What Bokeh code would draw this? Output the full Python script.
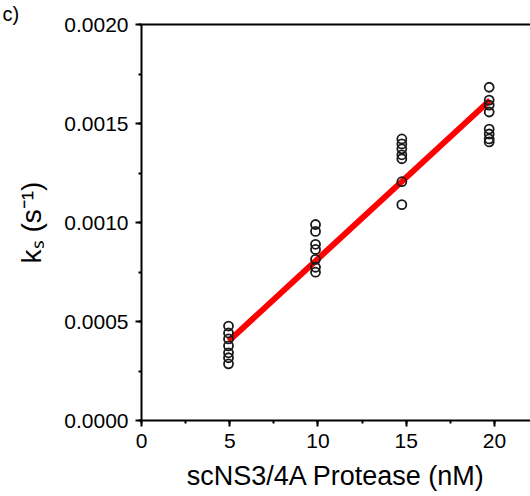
from bokeh.plotting import figure
from bokeh.models import (LinearAxis, SingleIntervalTicker, FixedTicker, PrintfTickFormatter,
                          Range1d, ColumnDataSource)
from bokeh.embed import file_html
from bokeh.resources import INLINE

# ---- data ----
x_5 = [4.93] * 7
y_5 = [0.000477, 0.000442, 0.000412, 0.000377, 0.000342, 0.000317, 0.000286]
x_10 = [9.86] * 7
y_10 = [0.000990, 0.000955, 0.000890, 0.000864, 0.000814, 0.000774, 0.000749]
x_15 = [14.75] * 7
y_15 = [0.001422, 0.001397, 0.001372, 0.001342, 0.001322, 0.001206, 0.001090]
x_20 = [19.7] * 8
y_20 = [0.001683, 0.001618, 0.001593, 0.001558, 0.001472, 0.001447, 0.001422, 0.001407]

fit_x = [4.95, 19.75]
fit_y = [0.000402, 0.001618]

x_label = "scNS3/4A Protease (nM)"
y_label = "kₛ (s⁻¹)"
panel_label = "c)"

FONT = "Liberation Sans"

p = figure(width=530, height=496, output_backend="svg", toolbar_location=None,
           x_range=Range1d(0, 22.04), y_range=Range1d(0, 0.0020),
           min_border_left=141, min_border_top=22, min_border_right=0,
           min_border_bottom=76, background_fill_color="white",
           border_fill_color="white", outline_line_color=None)
p.grid.visible = False

p.title.text = panel_label
p.title.align = "left"
p.title.offset = -139
p.title.standoff = 0
p.title.text_font = FONT
p.title.text_font_size = "20px"
p.title.text_font_style = "normal"
p.title.text_color = "black"

xs = x_5 + x_10 + x_15 + x_20
ys = y_5 + y_10 + y_15 + y_20
src = ColumnDataSource(dict(x=xs, y=ys))

p.line(fit_x, fit_y, line_color="#ff0000", line_width=6)
p.scatter("x", "y", source=src, marker="circle", size=9, fill_color=None,
          line_color="#1a1a1a", line_width=1.8)

xa = p.xaxis[0]
xa.ticker = SingleIntervalTicker(interval=5, num_minor_ticks=2)
ya = p.yaxis[0]
ya.ticker = SingleIntervalTicker(interval=0.0005, num_minor_ticks=2)
ya.formatter = PrintfTickFormatter(format="%.4f")

for ax in (xa, ya):
    ax.axis_line_width = 2
    ax.axis_line_color = "black"
    ax.major_tick_line_width = 2
    ax.minor_tick_line_width = 2
    ax.major_tick_out = 6
    ax.major_tick_in = 0
    ax.minor_tick_out = 3
    ax.minor_tick_in = 0
    ax.major_label_text_font = FONT
    ax.major_label_text_font_size = "21px"
    ax.major_label_text_color = "black"
    ax.major_label_standoff = 7
    ax.axis_label_text_font = FONT
    ax.axis_label_text_font_style = "normal"
    ax.axis_label_text_color = "black"

xa.axis_label = x_label
xa.axis_label_text_font_size = "27px"
xa.axis_label_standoff = 10
ya.axis_label = y_label
ya.axis_label_text_font_size = "28px"
ya.axis_label_standoff = 14

top = LinearAxis(ticker=FixedTicker(ticks=[]), axis_line_width=2,
                 major_tick_line_color=None, minor_tick_line_color=None)
p.add_layout(top, "above")

open("out.html", "w").write(file_html(p, INLINE))
